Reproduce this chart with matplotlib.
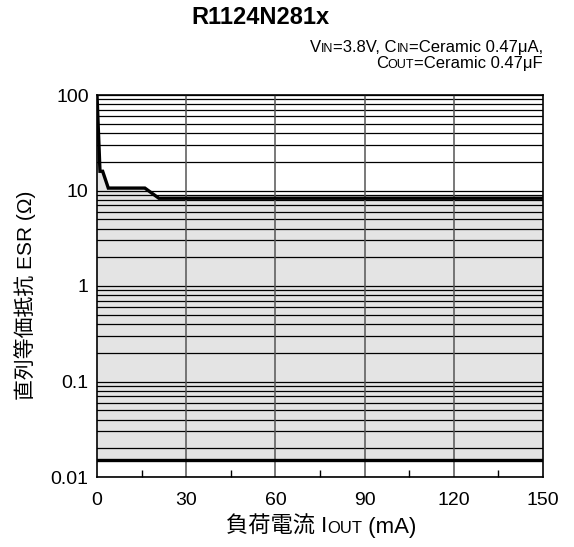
import numpy as np
import matplotlib
matplotlib.use("Agg")
import matplotlib.pyplot as plt
from matplotlib.offsetbox import TextArea, HPacker, VPacker, AnchoredOffsetbox
from matplotlib.ticker import FixedLocator, NullFormatter

plt.rcParams['font.family'] = ['Liberation Sans', 'Noto Sans CJK JP', 'DejaVu Sans']

# upper stability limit (ESR vs load current)
iout_upper = [0, 1.0, 1.9, 3.8, 16.1, 20.8, 150]
esr_upper = [100, 15.9, 15.9, 10.6, 10.6, 8.3, 8.3]
# lower stability limit
iout_lower = [0, 150]
esr_lower = [0.015, 0.015]

x_ticks = [0, 30, 60, 90, 120, 150]
y_ticks = [0.01, 0.1, 1, 10, 100]
y_labels = ['0.01', '0.1', '1', '10', '100']

fig = plt.figure(figsize=(5.74, 5.47), dpi=100)
ax = fig.add_axes([97 / 574, 1 - 477 / 547, 446 / 574, 382 / 547])

ax.set_yscale('log')
ax.set_xlim(0, 150)
ax.set_ylim(0.01, 100)

# shaded stable region
x_fill = np.linspace(0, 150, 3001)
y_top = np.interp(x_fill, iout_upper, esr_upper)
y_bot = np.interp(x_fill, iout_lower, esr_lower)
ax.fill_between(x_fill, y_bot, y_top, color='#e4e4e4', lw=0, zorder=0)

# horizontal grid on every minor decade step
minor_y = [m * 10.0 ** e for e in range(-2, 2) for m in range(1, 10)] + [100]
for yv in minor_y:
    ax.axhline(yv, color='black', lw=0.9, zorder=1)
for xv in x_ticks[1:-1]:
    ax.axvline(xv, color='#555555', lw=1.1, zorder=1)

ax.plot(iout_upper, esr_upper, color='black', lw=2.4, zorder=3, solid_joinstyle='miter')
ax.plot(iout_lower, esr_lower, color='black', lw=2.4, zorder=3)

ax.set_xticks(x_ticks)
ax.xaxis.set_minor_locator(FixedLocator([15, 45, 75, 105, 135]))
ax.set_yticks(y_ticks)
ax.set_yticklabels(y_labels)
ax.yaxis.set_minor_formatter(NullFormatter())
ax.tick_params(axis='both', which='major', direction='in', length=0, labelsize=14)
ax.tick_params(axis='x', which='major', pad=11)
ax.tick_params(axis='y', which='major', pad=6)
ax.tick_params(axis='x', which='minor', direction='in', length=5, width=1)
ax.tick_params(axis='y', which='minor', length=0)
for s in ax.spines.values():
    s.set_linewidth(1.2)

fig.text(25 / 574, 1 - 295 / 547, '直列等価抵抗 ESR (Ω)', rotation=90,
         ha='center', va='center', fontsize=15)

# x label with small-caps subscript
xl = HPacker(children=[TextArea('負荷電流 I', textprops=dict(size=16)),
                       TextArea('OUT', textprops=dict(size=12)),
                       TextArea(' (mA)', textprops=dict(size=16))],
             align='baseline', pad=0, sep=0)
fig.add_artist(AnchoredOffsetbox(loc='center', child=xl, frameon=False, pad=0, borderpad=0,
                                 bbox_to_anchor=(321 / 574, 1 - 527 / 547),
                                 bbox_transform=fig.transFigure))

fig.text(260 / 574, 1 - 17 / 547, 'R1124N281x', ha='center', va='center',
         fontsize=17, fontweight='bold')

line1 = HPacker(children=[TextArea('V', textprops=dict(size=12)),
                          TextArea('IN', textprops=dict(size=9)),
                          TextArea('=3.8V, C', textprops=dict(size=12)),
                          TextArea('IN', textprops=dict(size=9)),
                          TextArea('=Ceramic 0.47μA,', textprops=dict(size=12))],
                align='baseline', pad=0, sep=0)
line2 = HPacker(children=[TextArea('C', textprops=dict(size=12)),
                          TextArea('OUT', textprops=dict(size=9)),
                          TextArea('=Ceramic 0.47μF', textprops=dict(size=12))],
                align='baseline', pad=0, sep=0)
note = VPacker(children=[line1, line2], align='right', pad=0, sep=1)
fig.add_artist(AnchoredOffsetbox(loc='upper right', child=note, frameon=False, pad=0, borderpad=0,
                                 bbox_to_anchor=(543 / 574, 1 - 40 / 547),
                                 bbox_transform=fig.transFigure))

fig.savefig('out.png', dpi=100)
